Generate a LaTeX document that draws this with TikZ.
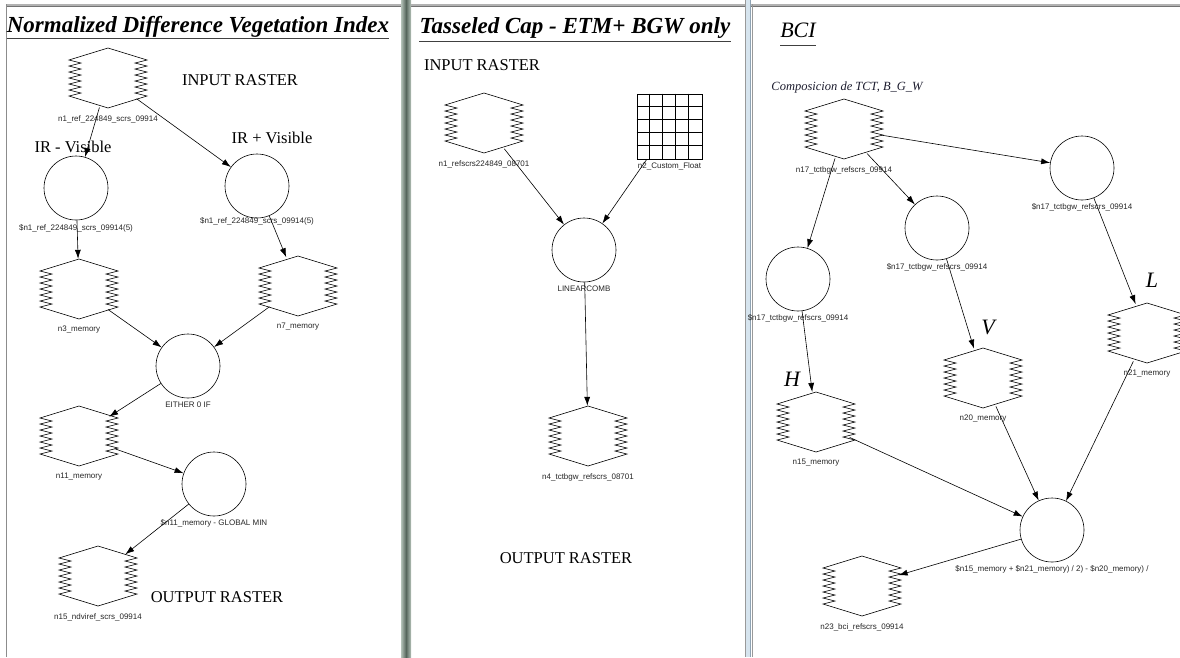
\documentclass[tikz,border=0pt]{standalone}
\usepackage{fontspec}
\setmainfont{Liberation Serif}
\setsansfont{Liberation Sans}
\usetikzlibrary{arrows.meta, positioning, shapes.geometric}
\definecolor{divdark}{HTML}{56665C}
\definecolor{divlight}{HTML}{B4C2B8}
\definecolor{paleblue}{HTML}{D6E4EE}
\definecolor{bluegray}{HTML}{8FA3B3}
\definecolor{inktext}{HTML}{1C1C2E}

\begin{document}
\begin{tikzpicture}[
    x=1pt, y=-1pt,
    raster/.style={ellipse, minimum width=78pt, minimum height=60pt, inner sep=0pt},
    opnode/.style={circle, draw, line width=0.6pt, minimum size=64pt, inner sep=0pt},
    gridnode/.style={rectangle, draw, line width=0.6pt, minimum size=65pt, inner sep=0pt},
    tag/.style={font=\sffamily\fontsize{8}{9}\selectfont, inner sep=0pt, text=black!85},
    hextag/.style={label={[tag, label distance=7pt]below:#1}},
    optag/.style={label={[tag, label distance=3pt]below:#1}},
    hexline/.style={line width=0.6pt},
    arrow/.style={-{Latex[length=9pt,width=6pt]}, line width=0.6pt},
    headtext/.style={font=\fontsize{23}{26}\selectfont\bfseries\itshape, inner sep=0pt},
    stamptext/.style={font=\fontsize{16.5}{19}\selectfont, inner sep=0pt},
    lettertext/.style={font=\fontsize{22}{25}\selectfont\itshape, inner sep=0pt},
    titleline/.style={draw=black!75, line width=0.8pt}
]
\useasboundingbox (0,0) rectangle (1180,657);

% FRAMES
\fill[black!30] (7,4) rectangle (1180,6);
\draw[black!55, line width=1pt] (7,6.5) -- (1180,6.5);
\draw[black!45, line width=1.5pt] (6.5,4) -- (6.5,657);
\shade[left color=divlight, right color=divdark] (401,0) rectangle (406,657);
\shade[left color=divdark, right color=divlight] (406,0) rectangle (411,657);
\fill[paleblue] (745,0) rectangle (751,657);
\draw[black!40] (745,0) -- (745,657);
\draw[bluegray, line width=1pt] (750,0) -- (750,657);
\draw[black!40, line width=1pt] (752.5,4) -- (752.5,657);

% TITLES
\node[headtext, anchor=base] (tndvi) at (198,32) {Normalized Difference Vegetation Index};
\node[headtext, anchor=base] (ttc) at (575,33) {Tasseled Cap - ETM+ BGW only};
\node[lettertext, anchor=base] (tbci) at (798,37) {BCI};
\draw[titleline] ([yshift=-6pt]tndvi.base west) -- ([yshift=-6pt]tndvi.base east);
\draw[titleline] ([yshift=-8pt]ttc.base west) -- ([yshift=-8pt]ttc.base east);
\draw[titleline] ([yshift=-8pt]tbci.base west) -- ([yshift=-8pt]tbci.base east);

% PANEL 1 - NDVI
\node[raster, hextag={n1\_ref\_224849\_scrs\_09914}] (ndviin) at (108,78) {};
\node[opnode, label={[tag, label distance=4pt]below:\$n1\_ref\_224849\_scrs\_09914(5)}] (irminus) at (76,188) {};
\node[opnode, label={[tag, label distance=-1pt]below:\$n1\_ref\_224849\_scrs\_09914(5)}] (irplus) at (257,186) {};
\node[raster, hextag={n3\_memory}] (memthree) at (79,289) {};
\node[raster, hextag={n7\_memory}] (memseven) at (298,286) {};
\node[opnode, optag={EITHER 0 IF}] (either) at (188,366) {};
\node[raster, hextag={n11\_memory}] (memeleven) at (79,436) {};
\node[opnode, optag={\$n11\_memory - GLOBAL MIN}] (globmin) at (214,484) {};
\node[raster, hextag={n15\_ndviref\_scrs\_09914}] (ndviout) at (98,576) {};
\node[stamptext] (ndviinput) at (240,80) {INPUT RASTER};
\node[stamptext] (irm) at (73,147) {IR - Visible};
\node[stamptext] (irp) at (272,138) {IR + Visible};
\node[stamptext] (ndvioutput) at (217,597) {OUTPUT RASTER};

% PANEL 2 - TASSELED CAP
\node[raster, hextag={n1\_refscrs224849\_08701}] (tcin) at (484,123) {};
\node[gridnode, label={[tag, label distance=3pt]below:n2\_Custom\_Float}] (tcfloat) at (669.5,126.5) {};
\node[opnode, optag={LINEARCOMB}] (lincomb) at (584,250) {};
\node[raster, hextag={n4\_tctbgw\_refscrs\_08701}] (tcout) at (588,436) {};
\node[stamptext] (tcinput) at (482,65) {INPUT RASTER};
\node[stamptext] (tcoutput) at (566,558) {OUTPUT RASTER};

% PANEL 3 - BCI
\node[raster, hextag={n17\_tctbgw\_refscrs\_09914}] (bciin) at (844,129) {};
\node[opnode, optag={\$n17\_tctbgw\_refscrs\_09914}] (circl) at (1082,168) {};
\node[opnode, optag={\$n17\_tctbgw\_refscrs\_09914}] (circv) at (937,228) {};
\node[opnode, optag={\$n17\_tctbgw\_refscrs\_09914}] (circh) at (798,279) {};
\node[raster, hextag={n21\_memory}] (memtwentyone) at (1147,333) {};
\node[raster, hextag={n20\_memory}] (memtwenty) at (983,378) {};
\node[raster, hextag={n15\_memory}] (memfifteen) at (816,422) {};
\node[opnode, optag={\$n15\_memory + \$n21\_memory) / 2) - \$n20\_memory) /}] (bcicalc) at (1052,530) {};
\node[raster, hextag={n23\_bci\_refscrs\_09914}] (bciout) at (862,586) {};
\node[font=\fontsize{12.5}{14}\selectfont\itshape, text=inktext, inner sep=0pt] (tct) at (847,87) {Composicion de TCT, B\_G\_W};
\node[lettertext] (letl) at (1152,280) {L};
\node[lettertext] (letv) at (988,327) {V};
\node[lettertext] (leth) at (792,379) {H};

% RASTER OUTLINES
\foreach \h in {ndviin,memthree,memseven,memeleven,ndviout,tcin,tcout,bciin,memtwentyone,memtwenty,memfifteen,bciout}
    \draw[hexline, shift={(\h.center)}] (0,-30) -- (-39,-18)
        \foreach \k in {1,...,6} { -- (-27,{-18+6*\k-3}) -- (-39,{-18+6*\k}) }
        -- (0,30) -- (39,18)
        \foreach \k in {1,...,6} { -- (27,{18-6*\k+3}) -- (39,{18-6*\k}) }
        -- cycle;
\foreach \k in {1,...,4} {
    \draw[hexline] (tcfloat.north west) ++(13*\k,0) -- ++(0,65);
    \draw[hexline] (tcfloat.north west) ++(0,13*\k) -- ++(65,0);
}

% ARROWS
\draw[arrow] (ndviin) -- (irminus);
\draw[arrow] (ndviin) -- (irplus);
\draw[arrow] (irminus) -- (memthree);
\draw[arrow] (irplus) -- (memseven);
\draw[arrow] (memthree) -- (either);
\draw[arrow] (memseven) -- (either);
\draw[arrow] (either) -- (memeleven);
\draw[arrow] (memeleven) -- (globmin);
\draw[arrow] (globmin) -- (ndviout);

\draw[arrow] (tcin) -- (lincomb);
\draw[arrow] (tcfloat) -- (lincomb);
\draw[arrow] (lincomb) -- (tcout);

\draw[arrow] (bciin) -- (circl);
\draw[arrow] (bciin) -- (circv);
\draw[arrow] (bciin) -- (circh);
\draw[arrow] (circl) -- (memtwentyone);
\draw[arrow] (circv) -- (memtwenty);
\draw[arrow] (circh) -- (memfifteen);
\draw[arrow] (memfifteen) -- (bcicalc);
\draw[arrow] (memtwenty) -- (bcicalc);
\draw[arrow] (memtwentyone) -- (bcicalc);
\draw[arrow] (bcicalc) -- (bciout);

\end{tikzpicture}
\end{document}
